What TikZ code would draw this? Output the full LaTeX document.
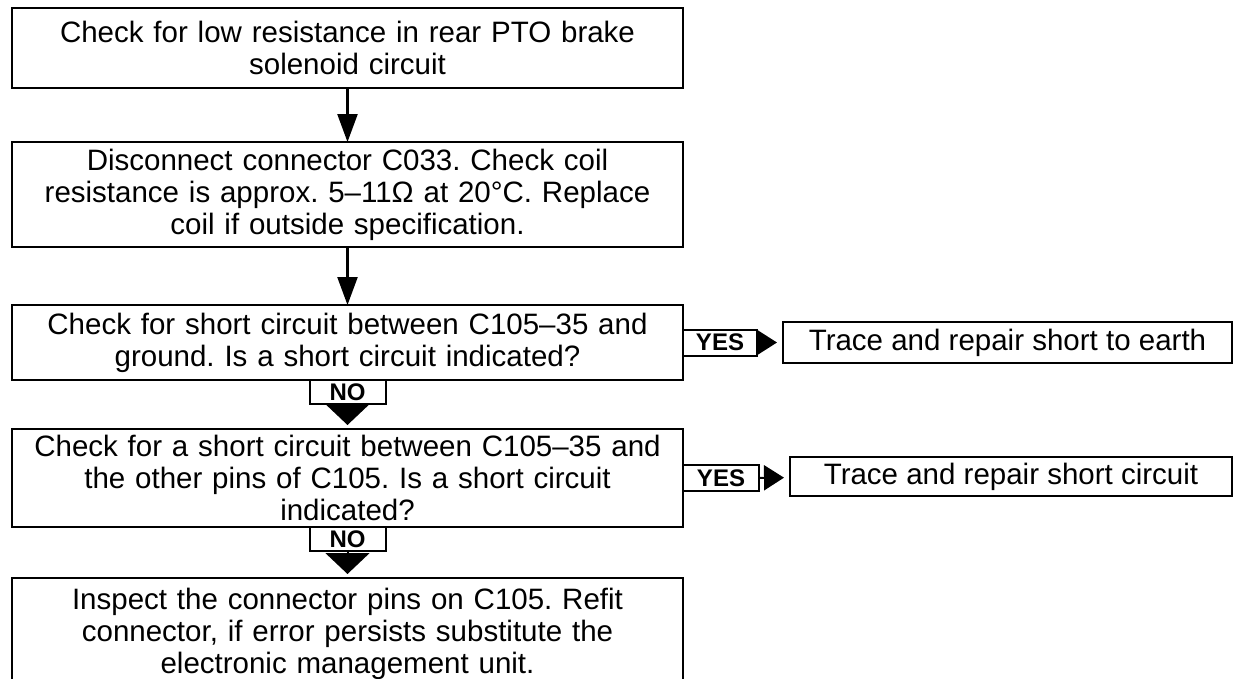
\documentclass[tikz,border=0pt]{standalone}
\usepackage{fontspec}
\setmainfont{Liberation Sans}
\usetikzlibrary{arrows.meta}
\frenchspacing
\begin{document}
\begin{tikzpicture}[x=1pt,y=-1pt,
  every node/.style={inner sep=0pt, outer sep=0pt},
  stepbox/.style={draw, line width=2.2pt, minimum width=671pt, text width=667pt,
    align=center, font=\fontsize{29.5}{32}\selectfont},
  sidebox/.style={draw, line width=2.2pt, align=center, font=\fontsize{29.5}{32}\selectfont},
  tag/.style={draw, line width=2pt, font=\fontsize{24}{24}\selectfont\bfseries},
  flow/.style={line width=2.4pt, -{Triangle[width=20pt,length=28pt]}},
  nohead/.style={line width=2pt, -{Triangle[width=44pt,length=21pt]}, shorten >=4pt},
  yeshead/.style={line width=2pt, -{Triangle[width=25pt,length=20pt]}, shorten >=6pt},
]
\useasboundingbox (0,0) rectangle (1235,678);
\clip (0,0) rectangle (1235,678);

% main column of checks
\node[stepbox, minimum height=80pt] (b1) at (347.5,48)
  {Check for low resistance in rear PTO brake\\solenoid circuit};
\node[stepbox, minimum height=105pt] (b2) at (347.5,194.5)
  {Disconnect connector C033. Check coil\\resistance is approx. 5–11Ω at 20°C. Replace\\coil if outside specification.};
\node[stepbox, minimum height=75pt] (b3) at (347.5,342.5)
  {Check for short circuit between C105–35 and\\ground. Is a short circuit indicated?};
\node[stepbox, minimum height=98pt] (b4) at (347.5,478)
  {Check for a short circuit between C105–35 and\\the other pins of C105. Is a short circuit\\indicated?};
\node[stepbox, minimum height=112pt] (b5) at (347.5,634)
  {Inspect the connector pins on C105. Refit\\connector, if error persists substitute the\\electronic management unit.};

% remedies on the right
\node[sidebox, minimum width=449pt, minimum height=41pt, anchor=east] (r1) at (1232,342.5)
  {Trace and repair short to earth};
\node[sidebox, minimum width=442pt, minimum height=39pt, anchor=east] (r2) at (1232,476.5)
  {Trace and repair short circuit};

% decision tags
\node[tag, minimum width=76pt, minimum height=24pt, anchor=north] (no1) at (b3.south) {NO};
\node[tag, minimum width=76pt, minimum height=24pt, anchor=north] (no2) at (b4.south) {NO};
\node[tag, minimum width=74pt, minimum height=26pt, anchor=west] (yes1) at (b3.east) {YES};
\node[tag, minimum width=76pt, minimum height=26pt, anchor=west] (yes2) at (b4.east) {YES};

% connectors
\draw[flow] (b1) -- (b2);
\draw[flow] (b2) -- (b3);
\draw[nohead] (no1) -- (b4);
\draw[nohead] (no2) -- (b5);
\draw[yeshead] (yes1) -- (r1);
\draw[yeshead] (yes2) -- (r2);
\end{tikzpicture}
\end{document}
